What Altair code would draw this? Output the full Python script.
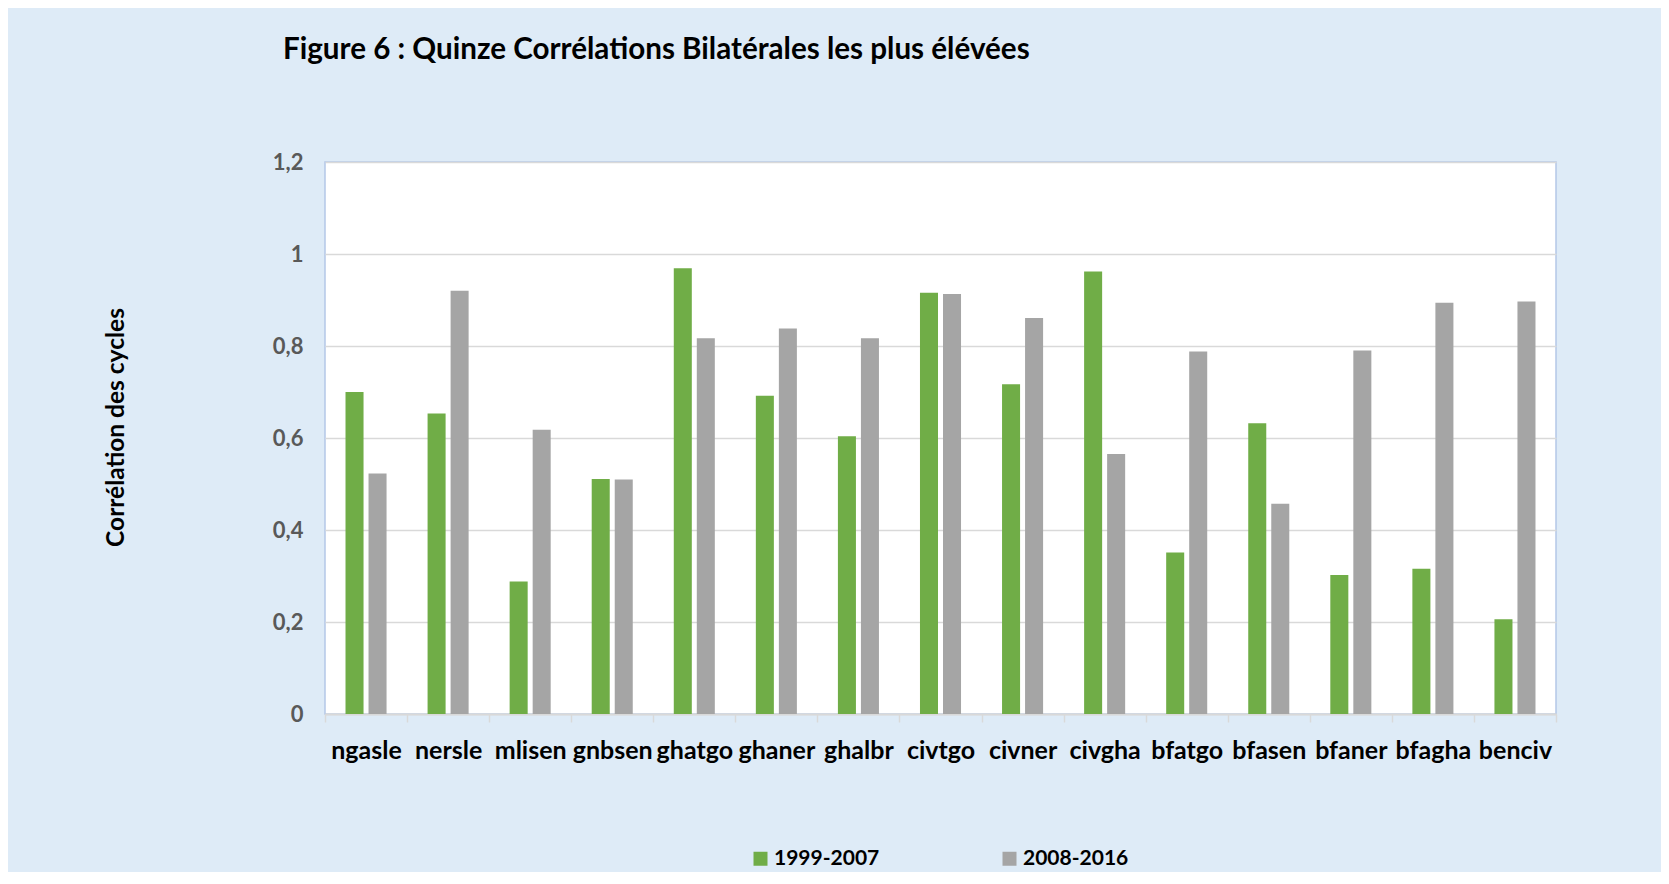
import altair as alt
import pandas as pd

categories = ["ngasle", "nersle", "mlisen", "gnbsen", "ghatgo", "ghaner", "ghalbr",
              "civtgo", "civner", "civgha", "bfatgo", "bfasen", "bfaner", "bfagha", "benciv"]
series_names = ["1999-2007", "2008-2016"]
values_1999_2007 = [0.700, 0.653, 0.288, 0.511, 0.969, 0.692, 0.604, 0.916, 0.717, 0.962,
                    0.351, 0.632, 0.302, 0.316, 0.206]
values_2008_2016 = [0.523, 0.920, 0.618, 0.510, 0.817, 0.838, 0.817, 0.913, 0.861, 0.565,
                    0.788, 0.457, 0.790, 0.894, 0.897]
y_ticks = [0, 0.2, 0.4, 0.6, 0.8, 1.0, 1.2]
colors = ["#70AD47", "#A5A5A5"]

rows = []
for c, a, b in zip(categories, values_1999_2007, values_2008_2016):
    rows.append({"pair": c, "period": series_names[0], "value": a})
    rows.append({"pair": c, "period": series_names[1], "value": b})
df = pd.DataFrame(rows)

FONT = "Lato"

chart = alt.Chart(df).mark_bar().encode(
    x=alt.X("pair:N", sort=categories,
            scale=alt.Scale(paddingInner=0, paddingOuter=0),
            axis=alt.Axis(title=None, labelAngle=0, tickBand="extent",
                          labelFont=FONT, labelFontSize=25, labelFontWeight="bold",
                          labelColor="#000000", labelBaseline="alphabetic",
                          labelPadding=36, tickSize=8, tickColor="#D9D9D9", tickWidth=1.5,
                          domainColor="#D9D9D9", domainWidth=2, grid=False)),
    xOffset=alt.XOffset("period:N", sort=series_names,
                        scale=alt.Scale(paddingInner=0.217, paddingOuter=0.891)),
    y=alt.Y("value:Q", scale=alt.Scale(domain=[0, 1.2], nice=False),
            axis=alt.Axis(values=y_ticks, title="Corrélation des cycles",
                          labelExpr="replace(format(datum.value, '.1~f'), '.', ',')",
                          labelFont=FONT, labelFontSize=22, labelFontWeight="bold",
                          labelColor="#595959", labelPadding=22, ticks=False, tickSize=0,
                          domain=False, grid=True, gridColor="#D9D9D9", gridWidth=1.5,
                          titleFont=FONT, titleFontSize=24.5, titleFontWeight="bold",
                          titleColor="#000000", titleAngle=270, titleAlign="center",
                          titleBaseline="bottom", titleX=-197, titleY=265)),
    color=alt.Color("period:N", sort=series_names,
                    scale=alt.Scale(domain=series_names, range=colors),
                    legend=alt.Legend(title=None, orient="none", legendX=425, legendY=686,
                                      direction="horizontal", symbolType="square",
                                      symbolSize=196, symbolStrokeWidth=0,
                                      labelFont=FONT, labelFontSize=21, labelFontWeight="bold",
                                      labelColor="#000000", labelOffset=3,
                                      columnPadding=119, padding=0, gridAlign="all")),
).properties(
    width=1231,
    height=552,
    padding={"left": 317, "top": 154, "right": 105, "bottom": 158},
    autosize=alt.AutoSizeParams(type="none"),
    background="#DEEBF7",
    title=alt.TitleParams(
        "Figure 6 : Quinze Corrélations Bilatérales les plus élévées",
        anchor="start", frame="group", dx=-42, dy=-62, offset=0,
        font=FONT, fontSize=29.6, fontWeight="bold", color="#000000",
        baseline="alphabetic"),
).configure_view(fill="#FFFFFF", stroke="#B4C7E7", strokeWidth=1.5)

chart.save("out.html", embed_options={"renderer": "svg", "actions": False})
